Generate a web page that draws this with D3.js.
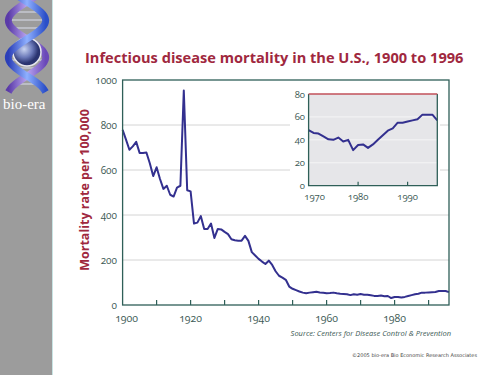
<!DOCTYPE html>
<html>
<head>
<meta charset="utf-8">
<script src="https://cdn.jsdelivr.net/npm/d3@7"></script>
<style>
  body { margin: 0; background: #fff; }
  svg { display: block; }
  .num { font-family: "Open Sans", "Lato", sans-serif; font-feature-settings: "onum" 1; font-variant-numeric: oldstyle-nums; }
</style>
</head>
<body>
<div id="chart"></div>
<script>
/* Data: infectious disease mortality per 100,000 */
const years = d3.range(1900, 1997);
const rates = [
  778, 735, 690, 705, 725, 676, 676, 678, 630, 573,   // 1900s
  612, 560, 516, 530, 490, 482, 522, 530, 953, 510,   // 1910s
  505, 362, 366, 395, 338, 338, 362, 298, 338, 336,   // 1920s
  325, 315, 292, 288, 286, 286, 307, 285, 235, 220,   // 1930s
  205, 193, 182, 197, 178, 150, 130, 122, 112, 82,    // 1940s
  72, 66, 60, 55, 52, 55, 57, 59, 56, 54,             // 1950s
  52, 53, 55, 52, 50, 49, 48, 44, 48, 46,             // 1960s
  48.5, 46, 45.5, 43, 40.5, 40, 42, 38.5, 40, 31,     // 1970s
  35.5, 36, 33, 36, 40, 44, 48, 50, 55, 55,           // 1980s
  56, 57, 58, 62, 62, 62, 57                          // 1990-1996
];
const data = years.map((y, i) => ({year: y, value: rates[i]}));
const insetData = data.filter(d => d.year >= 1970);

const mainXTicks = d3.range(1910, 2000, 10);
const mainXLabels = [1900, 1920, 1940, 1960, 1980];
const mainYTicks = [0, 200, 400, 600, 800, 1000];
const insetYTicks = [0, 20, 40, 60, 80];
const insetXTicks = [1980, 1990];
const insetXLabels = [1970, 1980, 1990];

const width = 500, height = 375;
const axisColor = "#2f5f58";
const labelColor = "#3d5a55";
const lineColor = "#33308f";
const titleColor = "#a0283e";

const svg = d3.select("#chart")
  .append("svg")
    .attr("width", width)
    .attr("height", height)
    .attr("viewBox", [0, 0, width, height]);

/* Sidebar with the bio-era logo */
const defs = svg.append("defs");
const g1 = defs.append("linearGradient").attr("id", "blueStrand").attr("x1", 0).attr("x2", 1);
g1.append("stop").attr("offset", 0).attr("stop-color", "#2b3fb8");
g1.append("stop").attr("offset", 0.5).attr("stop-color", "#8fb0ff");
g1.append("stop").attr("offset", 1).attr("stop-color", "#2b4fc8");
const g2 = defs.append("linearGradient").attr("id", "purpleStrand").attr("x1", 0).attr("x2", 1);
g2.append("stop").attr("offset", 0).attr("stop-color", "#5a3aa8");
g2.append("stop").attr("offset", 0.5).attr("stop-color", "#b9a4f0");
g2.append("stop").attr("offset", 1).attr("stop-color", "#6a48b8");
const g3 = defs.append("radialGradient").attr("id", "globe").attr("cx", 0.4).attr("cy", 0.4);
g3.append("stop").attr("offset", 0).attr("stop-color", "#c9d4f2");
g3.append("stop").attr("offset", 0.6).attr("stop-color", "#6a78b8");
g3.append("stop").attr("offset", 1).attr("stop-color", "#2a3470");

const side = svg.append("g").attr("class", "sidebar");
side.append("rect").attr("x", 0).attr("y", 0).attr("width", 52).attr("height", height).attr("fill", "#9c9c9c");
side.append("line").attr("x1", 52.5).attr("x2", 52.5).attr("y1", 0).attr("y2", height)
  .attr("stroke", "#c8e4e4").attr("stroke-width", 1);

// helix strands
const helix = d3.line().curve(d3.curveBasis);
const strandA = d3.range(-4, 96, 4).map(y => [27 + 19 * Math.sin((y - 2) / 74 * 2 * Math.PI), y]);
const strandB = d3.range(-4, 96, 4).map(y => [27 - 19 * Math.sin((y - 2) / 74 * 2 * Math.PI), y]);
d3.range(4, 92, 8).forEach(y => {
  const s = 19 * Math.sin((y - 2) / 74 * 2 * Math.PI);
  side.append("line").attr("x1", 27 - s).attr("x2", 27 + s).attr("y1", y).attr("y2", y)
    .attr("stroke", "#d8dde8").attr("stroke-width", 1.5).attr("opacity", 0.7);
});
side.append("path").attr("d", helix(strandB)).attr("fill", "none")
  .attr("stroke", "url(#purpleStrand)").attr("stroke-width", 7);
side.append("circle").attr("cx", 27).attr("cy", 52).attr("r", 14)
  .attr("fill", "url(#globe)").attr("stroke", "#e6e6ee").attr("stroke-width", 1.5);
side.append("path").attr("d", helix(strandA)).attr("fill", "none")
  .attr("stroke", "url(#blueStrand)").attr("stroke-width", 7);
side.append("text")
  .attr("x", 3).attr("y", 109)
  .attr("font-family", "Liberation Serif, DejaVu Serif, serif")
  .attr("font-size", 15)
  .attr("fill", "#ffffff")
  .text("bio-era");

/* Title */
svg.append("text")
  .attr("x", 85).attr("y", 63)
  .attr("font-family", "Open Sans, Lato, sans-serif")
  .attr("font-weight", 700)
  .attr("font-size", 14.6)
  .attr("fill", titleColor)
  .text("Infectious disease mortality in the U.S., 1900 to 1996");

/* Main chart scales */
const margins = {top: 80, right: 449, bottom: 305, left: 122.6};
const xScale = d3.scaleLinear().domain([1900, 1996]).range([margins.left, margins.right]);
const yScale = d3.scaleLinear().domain([0, 1000]).range([margins.bottom, margins.top]);

// gridlines
svg.append("g")
  .selectAll("line")
  .data(mainYTicks.filter(d => d > 0 && d < 1000))
  .join("line")
    .attr("x1", xScale(1900)).attr("x2", xScale(1996))
    .attr("y1", d => yScale(d)).attr("y2", d => yScale(d))
    .attr("stroke", "#d4d4d4").attr("stroke-width", 1);

/* Inset panel background (white box covers the gridlines) */
svg.append("rect")
  .attr("x", 290).attr("y", 81).attr("width", 150).attr("height", 124)
  .attr("fill", "#ffffff");

// main line
const line = d3.line()
  .x(d => xScale(d.year))
  .y(d => yScale(d.value));

svg.append("path")
  .datum(data)
  .attr("d", line)
  .attr("fill", "none")
  .attr("stroke", lineColor)
  .attr("stroke-width", 2)
  .attr("stroke-linejoin", "round");

// frame
svg.append("rect")
  .attr("x", xScale(1900)).attr("y", yScale(1000))
  .attr("width", xScale(1996) - xScale(1900))
  .attr("height", yScale(0) - yScale(1000))
  .attr("fill", "none").attr("stroke", axisColor).attr("stroke-width", 1.3);

// x ticks (inward)
svg.append("g")
  .selectAll("line")
  .data(mainXTicks)
  .join("line")
    .attr("x1", d => xScale(d)).attr("x2", d => xScale(d))
    .attr("y1", yScale(0)).attr("y2", yScale(0) - 5)
    .attr("stroke", axisColor).attr("stroke-width", 1.2);

svg.append("g")
  .selectAll("text")
  .data(mainXLabels)
  .join("text")
    .attr("class", "num")
    .attr("x", d => xScale(d) + (d === 1900 ? 4 : 0))
    .attr("y", 322)
    .attr("text-anchor", "middle")
    .attr("font-size", 10.5)
    .attr("fill", labelColor)
    .text(d => d);

svg.append("g")
  .selectAll("text")
  .data(mainYTicks)
  .join("text")
    .attr("class", "num")
    .attr("x", 117)
    .attr("y", d => yScale(d) + 3.5)
    .attr("text-anchor", "end")
    .attr("font-size", 10)
    .attr("fill", labelColor)
    .text(d => d);

// y-axis title
svg.append("text")
  .attr("transform", "translate(89,190) rotate(-90)")
  .attr("text-anchor", "middle")
  .attr("font-family", "Open Sans, Lato, sans-serif")
  .attr("font-weight", 700)
  .attr("font-size", 12.5)
  .attr("fill", titleColor)
  .text("Mortality rate per 100,000");

// source
svg.append("text")
  .attr("x", 451).attr("y", 336)
  .attr("text-anchor", "end")
  .attr("font-family", "Open Sans, sans-serif")
  .attr("font-style", "italic")
  .attr("font-size", 7.5)
  .attr("fill", labelColor)
  .text("Source: Centers for Disease Control & Prevention");

// copyright
svg.append("text")
  .attr("x", 477).attr("y", 357)
  .attr("text-anchor", "end")
  .attr("font-family", "DejaVu Sans, sans-serif")
  .attr("font-size", 5)
  .attr("fill", "#444")
  .text("\u00a92005 bio-era Bio Economic Research Associates");

/* Inset chart 1970-1996 */
const ix = d3.scaleLinear().domain([1970, 1996]).range([308.6, 437.3]);
const iy = d3.scaleLinear().domain([0, 80]).range([185.7, 94]);

svg.append("rect")
  .attr("x", ix(1970)).attr("y", iy(80))
  .attr("width", ix(1996) - ix(1970)).attr("height", iy(0) - iy(80))
  .attr("fill", "#e6e6e9");

svg.append("g")
  .selectAll("line")
  .data(insetYTicks.filter(d => d > 0 && d < 80))
  .join("line")
    .attr("x1", ix(1970)).attr("x2", ix(1996))
    .attr("y1", d => iy(d)).attr("y2", d => iy(d))
    .attr("stroke", "#f6f6f6").attr("stroke-width", 1);

const insetLine = d3.line()
  .x(d => ix(d.year))
  .y(d => iy(d.value));

svg.append("path")
  .datum(insetData)
  .attr("d", insetLine)
  .attr("fill", "none")
  .attr("stroke", lineColor)
  .attr("stroke-width", 2)
  .attr("stroke-linejoin", "round");

// inset frame: left, bottom, right dark; top red
svg.append("path")
  .attr("d", `M${ix(1996)},${iy(80)}V${iy(0)}H${ix(1970)}V${iy(80)}`)
  .attr("fill", "none").attr("stroke", axisColor).attr("stroke-width", 1.3);
svg.append("line")
  .attr("x1", ix(1970)).attr("x2", ix(1996))
  .attr("y1", iy(80)).attr("y2", iy(80))
  .attr("stroke", "#c2505a").attr("stroke-width", 1.3);

svg.append("g")
  .selectAll("line")
  .data(insetXTicks)
  .join("line")
    .attr("x1", d => ix(d)).attr("x2", d => ix(d))
    .attr("y1", iy(0)).attr("y2", iy(0) - 4)
    .attr("stroke", axisColor).attr("stroke-width", 1.2);

svg.append("g")
  .selectAll("text")
  .data(insetXLabels)
  .join("text")
    .attr("class", "num")
    .attr("x", d => ix(d) + (d === 1970 ? 6 : 0))
    .attr("y", 200)
    .attr("text-anchor", "middle")
    .attr("font-size", 9.5)
    .attr("fill", labelColor)
    .text(d => d);

svg.append("g")
  .selectAll("text")
  .data(insetYTicks)
  .join("text")
    .attr("class", "num")
    .attr("x", 305)
    .attr("y", d => iy(d) + 3.5)
    .attr("text-anchor", "end")
    .attr("font-size", 9.5)
    .attr("fill", labelColor)
    .text(d => d);
</script>
</body>
</html>
